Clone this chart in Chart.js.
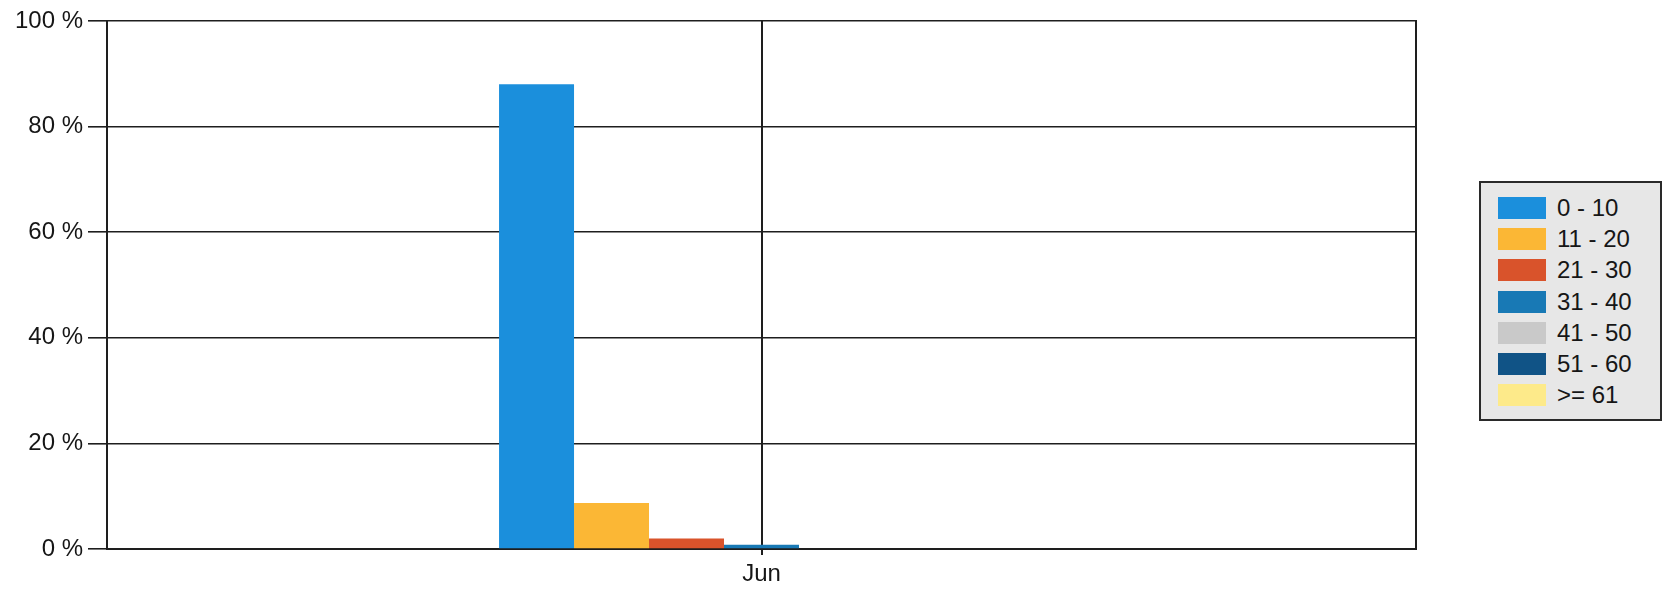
<!DOCTYPE html>
<html>
<head>
<meta charset="utf-8">
<script src="https://cdn.jsdelivr.net/npm/chart.js@4/dist/chart.umd.min.js"></script>
<style>
  body{margin:0;background:#fff;font-family:"Liberation Sans",Arial,sans-serif;}
  #wrap{position:relative;width:1665px;height:590px;}
  #legend{position:absolute;left:1479px;top:181px;width:179px;height:236px;background:#e7e7e7;border:2px solid #2a2a2a;box-sizing:content-box;}
  #legend .row{position:absolute;left:17px;height:22px;display:flex;align-items:center;}
  #legend .sw{width:48px;height:22px;margin-right:11px;}
  #legend .tx{font-size:24px;color:#161616;line-height:22px;white-space:nowrap;}
</style>
</head>
<body>
<div id="wrap">
  <canvas id="c"></canvas>
  <div id="legend"></div>
</div>
<script>
document.addEventListener('DOMContentLoaded',()=>{

const $ = id => document.getElementById(id);

// ===== DATA =====
const categories = ['Jun'];
const groups = ['0 - 10','11 - 20','21 - 30','31 - 40','41 - 50','51 - 60','>= 61'];
const values = [88.0, 8.7, 2.0, 0.8, 0, 0, 0];
const colors = ['#1b8fdc','#fbb735','#d9532b','#1879b5','#c9c9c9','#105386','#fdea8a'];
const yTicks = [0,20,40,60,80,100];

const INK = '#1e1e1e';
const TXT = '#161616';

// ===== CHART =====
const chart = new Chart($('c'),{
  type:'bar',
  data:{
    labels:categories,
    datasets:groups.map((g,i)=>({
      label:g,
      data:[values[i]],
      backgroundColor:colors[i],
      borderWidth:0,
      categoryPercentage:0.401,
      barPercentage:1
    }))
  },
  options:{
    responsive:true,
    maintainAspectRatio:false,
    animation:false,
    layout:{padding:{top:21,right:249,left:0,bottom:0}},
    plugins:{legend:{display:false},tooltip:{enabled:false}},
    scales:{
      x:{
        grid:{color:INK,lineWidth:2,offset:false,tickLength:6},
        border:{color:INK,width:2},
        ticks:{color:TXT,font:{family:'"Liberation Sans", Arial',size:24},padding:5},
        afterFit:s=>{s.height=41;}
      },
      y:{
        min:0,max:100,
        afterBuildTicks:s=>{s.ticks=yTicks.map(v=>({value:v}));},
        grid:{color:INK,lineWidth:1.6,tickLength:19},
        border:{color:INK,width:2},
        ticks:{color:TXT,font:{family:'"Liberation Sans", Arial',size:24},padding:5,callback:v=>v+' %'},
        afterFit:s=>{s.width=107;}
      },
      y2:{
        position:'right',min:0,max:100,
        grid:{drawOnChartArea:false,drawTicks:false},
        border:{color:INK,width:2},
        ticks:{display:false},
        afterFit:s=>{s.width=0;}
      }
    }
  }
});

// ===== LEGEND =====
$('legend').innerHTML = chart.data.datasets.map((d,i)=>`
  <div class="row" style="top:${14+i*31.2}px"><span class="sw" style="background:${d.backgroundColor}"></span><span class="tx">${d.label}</span></div>`).join('');

});
</script>
</body>
</html>
